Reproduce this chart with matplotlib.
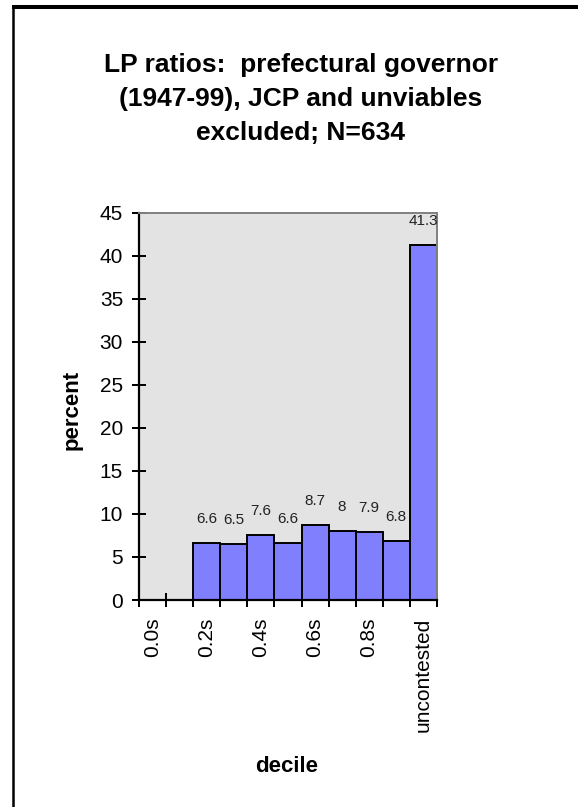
import matplotlib
matplotlib.use("Agg")
import matplotlib.pyplot as plt
from matplotlib.lines import Line2D
from matplotlib.ticker import FixedLocator, NullFormatter, FixedFormatter
import numpy as np

# LP-ratio deciles for prefectural governor races, 1947-99
categories = ["0.0s", "0.1s", "0.2s", "0.3s", "0.4s", "0.5s",
              "0.6s", "0.7s", "0.8s", "0.9s", "uncontested"]
percent = [0, 0, 6.6, 6.5, 7.6, 6.6, 8.7, 8, 7.9, 6.8, 41.3]
y_ticks = [0, 5, 10, 15, 20, 25, 30, 35, 40, 45]
title_lines = ["LP ratios:  prefectural governor",
               "(1947-99), JCP and unviables",
               "excluded; N=634"]
x_title = "decile"
y_title = "percent"

plt.rcParams["font.family"] = ["Liberation Sans", "DejaVu Sans"]

W, H = 578, 807
fig = plt.figure(figsize=(W / 100, H / 100), dpi=100)
fig.patch.set_facecolor("white")

# plot area in pixel units
left, right, top, bottom = 139.3, 436.7, 212.7, 600.0
ax = fig.add_axes([left / W, 1 - bottom / H, (right - left) / W, (bottom - top) / H])
ax.set_facecolor("#E3E3E3")

x = np.arange(len(categories))
ax.bar(x, percent, width=1.0, color="#8080FF", edgecolor="black",
       linewidth=1.4, zorder=2)
ax.set_xlim(-0.5, len(categories) - 0.5)
ax.set_ylim(y_ticks[0], y_ticks[-1])

# spines
for side in ("left", "bottom"):
    ax.spines[side].set_color("black")
    ax.spines[side].set_linewidth(1.6)
for side in ("top", "right"):
    ax.spines[side].set_color("#808080")
    ax.spines[side].set_linewidth(1.4)

# y axis
ax.set_yticks(y_ticks)
ax.set_yticklabels([str(t) for t in y_ticks])
ax.tick_params(axis="y", direction="inout", length=10, width=1.44,
               color="black", labelsize=15, pad=6.7)

# x axis: tick marks on category boundaries, labels on every other category
edges = np.arange(-0.5, len(categories), 1.0)
ax.xaxis.set_major_locator(FixedLocator(edges))
ax.xaxis.set_major_formatter(NullFormatter())
shown = x[::2]
ax.xaxis.set_minor_locator(FixedLocator(shown))
ax.xaxis.set_minor_formatter(FixedFormatter([categories[i] for i in shown]))
ax.tick_params(axis="x", which="major", direction="inout", length=10,
               width=1.44, color="black")
ax.tick_params(axis="x", which="minor", length=0, labelsize=15, pad=12.5,
               labelrotation=90)

# value labels above the bars
for xi, v in zip(x, percent):
    if v > 0:
        ax.annotate(f"{v:g}", (xi, v), xytext=(0, 14.4),
                    textcoords="offset points", ha="center", va="baseline",
                    fontsize=11, color="#222222", zorder=3)

# axis titles
ax.set_ylabel(y_title, fontsize=16, fontweight="bold")
ax.yaxis.label.set_va("center")
ax.yaxis.set_label_coords((72.5 - left) / (right - left),
                          (bottom - 410) / (bottom - top))
ax.set_xlabel(x_title, fontsize=16, fontweight="bold")
ax.xaxis.label.set_va("center")
ax.xaxis.set_label_coords((287 - left) / (right - left),
                          (bottom - 767) / (bottom - top))

# chart title
for baseline, line in zip((72, 106, 140), title_lines):
    fig.text(301 / W, 1 - baseline / H, line, ha="center", va="baseline",
             fontsize=19, fontweight="bold", color="black")

# chart frame
fig.add_artist(Line2D([12 / W, 1], [1 - 7 / H, 1 - 7 / H],
                      transform=fig.transFigure, color="black",
                      linewidth=2.9, solid_capstyle="butt"))
fig.add_artist(Line2D([13.3 / W, 13.3 / W], [0, 1 - 5 / H],
                      transform=fig.transFigure, color="black",
                      linewidth=1.8, solid_capstyle="butt"))

fig.savefig("out.png", dpi=100)
